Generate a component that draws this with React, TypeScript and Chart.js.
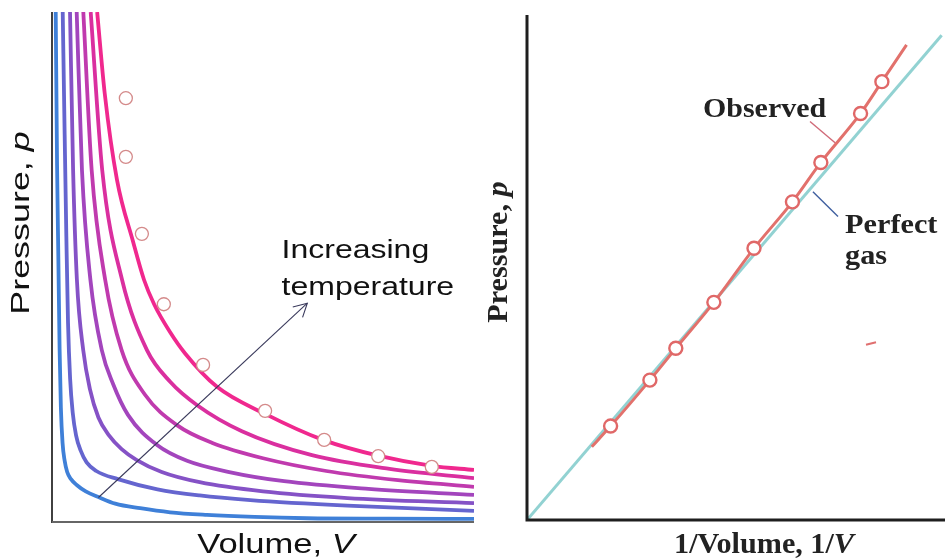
import React, { useEffect, useRef } from "react";
import { Chart, registerables } from "chart.js";
Chart.register(...registerables);

// ---------- Left panel: isotherms (Volume V vs Pressure p), arbitrary units 0..10 ----------
const isoV1 = [1.07, 1.25, 1.54, 1.92, 2.18, 2.42, 2.8, 3.15, 3.91, 5.05, 6.42, 7.73, 9.0, 10.0];
const isoP1 = [10.0, 8.4, 6.71, 5.5, 4.75, 4.27, 3.72, 3.31, 2.65, 2.12, 1.61, 1.3, 1.1, 1.02];
const isoV2 = [0.917, 1.19, 1.66, 2.25, 2.8, 3.44, 4.5, 6.16, 8.0, 10.0];
const isoP2 = [10.0, 6.9, 4.75, 3.37, 2.75, 2.29, 1.78, 1.31, 1.04, 0.86];
const isoV3 = [0.742, 0.94, 1.26, 1.65, 2.2, 2.96, 3.8, 5.0, 6.5, 8.2, 10.0];
const isoP3 = [10.0, 6.9, 4.75, 3.37, 2.5, 1.9, 1.55, 1.25, 1.0, 0.82, 0.69];
const isoV4 = [0.585, 0.71, 0.91, 1.18, 1.45, 1.8, 2.49, 3.2, 4.2, 5.5, 7.5, 10.0];
const isoP4 = [10.0, 6.9, 4.75, 3.37, 2.7, 2.1, 1.51, 1.2, 0.98, 0.8, 0.65, 0.53];
const isoV5 = [0.427, 0.5, 0.59, 0.74, 0.9, 1.1, 1.35, 1.65, 2.0, 2.6, 3.5, 5.0, 7.0, 10.0];
const isoP5 = [10.0, 6.9, 4.75, 3.37, 2.6, 2.05, 1.7, 1.43, 1.22, 0.98, 0.78, 0.6, 0.47, 0.37];
const isoV6 = [0.254, 0.3, 0.34, 0.38, 0.43, 0.49, 0.57, 0.68, 0.82, 1.05, 1.56, 2.5, 3.5, 4.7, 7.0, 10.0];
const isoP6 = [10.0, 7.6, 5.6, 3.9, 2.8, 2.15, 1.7, 1.4, 1.17, 1.0, 0.84, 0.64, 0.52, 0.43, 0.32, 0.22];
const isoV7 = [0.088, 0.12, 0.15, 0.18, 0.21, 0.25, 0.3, 0.36, 0.45, 0.585, 0.8, 1.1, 1.5, 2.09, 2.8, 3.67, 4.8, 6.04, 8.0, 10.0];
const isoP7 = [10.0, 7.0, 5.2, 3.4, 2.25, 1.55, 1.2, 0.98, 0.84, 0.725, 0.6, 0.49, 0.36, 0.27, 0.19, 0.14, 0.1, 0.074, 0.065, 0.06];

const isoVs = [isoV1, isoV2, isoV3, isoV4, isoV5, isoV6, isoV7];
const isoPs = [isoP1, isoP2, isoP3, isoP4, isoP5, isoP6, isoP7];
const isoColors = ["#f0288e", "#da2f9f", "#c03aae", "#a345bd", "#8552c6", "#6565cf", "#3f80d8"];

// observed (real-gas) points on the left panel
const leftObsV = [1.75, 1.75, 2.13, 2.65, 3.58, 5.05, 6.45, 7.73, 9.0];
const leftObsP = [8.31, 7.16, 5.65, 4.27, 3.08, 2.18, 1.61, 1.29, 1.08];

// ---------- Right panel: 1/V vs p ----------
const perfectInvV = [0, 9.92];
const perfectP = [0, 9.6];
const observedLineInvV = [1.55, 2.0, 2.94, 3.56, 4.47, 5.43, 6.35, 7.03, 7.98, 8.49, 9.08];
const observedLineP = [1.45, 1.86, 2.77, 3.4, 4.31, 5.38, 6.3, 7.08, 8.05, 8.68, 9.41];
const observedPtsInvV = [2.0, 2.94, 3.56, 4.47, 5.43, 6.35, 7.03, 7.98, 8.49];
const observedPtsP = [1.86, 2.77, 3.4, 4.31, 5.38, 6.3, 7.08, 8.05, 8.68];

// annotation anchors (data units)
const ARROW_FROM = [1.1, 0.48];
const ARROW_TO = [6.05, 4.29];
const INC_TEXT = { x: 5.44, y1: 5.17, y2: 4.45 };
const OBS_TEXT = { x: 4.21, y: 7.99 };
const PERF_TEXT = { x: 7.61, y1: 5.68, y2: 5.07 };
const OBS_LEADER = [[6.77, 7.89], [7.37, 7.47]];
const PERF_LEADER = [[6.84, 6.5], [7.44, 6.01]];
const STRAY_DASH = [[8.11, 3.47], [8.35, 3.52]];

const SANS = '"Liberation Sans", Arial, sans-serif';
const SERIF = '"Liberation Serif", "Times New Roman", serif';

type Part = { text: string; font: string };

function drawRich(
  ctx: CanvasRenderingContext2D,
  parts: Part[],
  x: number,
  y: number,
  align: "left" | "center",
  rotate: number,
  sx: number,
  color: string
) {
  ctx.save();
  ctx.translate(x, y);
  if (rotate) ctx.rotate(rotate);
  ctx.scale(sx, 1);
  ctx.fillStyle = color;
  ctx.textBaseline = "alphabetic";
  ctx.textAlign = "left";
  const widths = parts.map((p) => {
    ctx.font = p.font;
    return ctx.measureText(p.text).width;
  });
  const total = widths.reduce((a, b) => a + b, 0);
  let cx = align === "center" ? -total / 2 : 0;
  parts.forEach((p, i) => {
    ctx.font = p.font;
    ctx.fillText(p.text, cx, 0);
    cx += widths[i];
  });
  ctx.restore();
}

const baseOptions = (padding: any) => ({
  responsive: false,
  animation: false as const,
  events: [] as any[],
  layout: { padding, autoPadding: false },
  plugins: { legend: { display: false }, tooltip: { enabled: false } },
  scales: {
    x: { type: "linear" as const, min: 0, max: 10, display: false },
    y: { type: "linear" as const, min: 0, max: 10, display: false },
  },
});

const leftPlugin = {
  id: "leftDecor",
  afterDatasetsDraw(chart: any) {
    const { ctx, chartArea: a, scales } = chart;
    const X = (v: number) => scales.x.getPixelForValue(v);
    const Y = (v: number) => scales.y.getPixelForValue(v);
    ctx.save();
    // axes
    ctx.lineCap = "butt";
    ctx.strokeStyle = "#111";
    ctx.lineWidth = 1.6;
    ctx.beginPath();
    ctx.moveTo(a.left, a.top);
    ctx.lineTo(a.left, a.bottom + 1);
    ctx.stroke();
    ctx.strokeStyle = "#666";
    ctx.lineWidth = 2.2;
    ctx.beginPath();
    ctx.moveTo(a.left, a.bottom);
    ctx.lineTo(a.right, a.bottom);
    ctx.stroke();
    // arrow
    const x0 = X(ARROW_FROM[0]), y0 = Y(ARROW_FROM[1]);
    const x1 = X(ARROW_TO[0]), y1 = Y(ARROW_TO[1]);
    ctx.strokeStyle = "#3a3a5c";
    ctx.lineWidth = 1.1;
    ctx.beginPath();
    ctx.moveTo(x0, y0);
    ctx.lineTo(x1, y1);
    ctx.stroke();
    const ang = Math.atan2(y1 - y0, x1 - x0);
    const L = 15;
    ctx.beginPath();
    ctx.moveTo(x1 - L * Math.cos(ang - 0.5), y1 - L * Math.sin(ang - 0.5));
    ctx.lineTo(x1, y1);
    ctx.lineTo(x1 - L * Math.cos(ang + 0.5), y1 - L * Math.sin(ang + 0.5));
    ctx.stroke();
    // text
    const f = `25px ${SANS}`;
    drawRich(ctx, [{ text: "Increasing", font: f }], X(INC_TEXT.x), Y(INC_TEXT.y1), "left", 0, 1.28, "#111");
    drawRich(ctx, [{ text: "temperature", font: f }], X(INC_TEXT.x), Y(INC_TEXT.y2), "left", 0, 1.28, "#111");
    // axis titles
    drawRich(
      ctx,
      [
        { text: "Volume, ", font: `27px ${SANS}` },
        { text: "V", font: `italic 27px ${SANS}` },
      ],
      a.left + 224,
      a.bottom + 31,
      "center",
      0,
      1.28,
      "#111"
    );
    drawRich(
      ctx,
      [
        { text: "Pressure, ", font: `26px ${SANS}` },
        { text: "p", font: `italic 26px ${SANS}` },
      ],
      a.left - 23,
      a.top + 211,
      "center",
      -Math.PI / 2,
      1.38,
      "#111"
    );
    ctx.restore();
  },
};

const rightPlugin = {
  id: "rightDecor",
  afterDatasetsDraw(chart: any) {
    const { ctx, chartArea: a, scales } = chart;
    const X = (v: number) => scales.x.getPixelForValue(v);
    const Y = (v: number) => scales.y.getPixelForValue(v);
    ctx.save();
    ctx.strokeStyle = "#1e1e1e";
    ctx.lineWidth = 3;
    ctx.beginPath();
    ctx.moveTo(a.left, a.top);
    ctx.lineTo(a.left, a.bottom + 1.5);
    ctx.moveTo(a.left - 1.5, a.bottom);
    ctx.lineTo(a.right, a.bottom);
    ctx.stroke();
    // leaders
    ctx.lineWidth = 1.4;
    ctx.strokeStyle = "#d06a78";
    ctx.beginPath();
    ctx.moveTo(X(OBS_LEADER[0][0]), Y(OBS_LEADER[0][1]));
    ctx.lineTo(X(OBS_LEADER[1][0]), Y(OBS_LEADER[1][1]));
    ctx.stroke();
    ctx.strokeStyle = "#3f5f9f";
    ctx.beginPath();
    ctx.moveTo(X(PERF_LEADER[0][0]), Y(PERF_LEADER[0][1]));
    ctx.lineTo(X(PERF_LEADER[1][0]), Y(PERF_LEADER[1][1]));
    ctx.stroke();
    ctx.strokeStyle = "#e07070";
    ctx.lineWidth = 2;
    ctx.beginPath();
    ctx.moveTo(X(STRAY_DASH[0][0]), Y(STRAY_DASH[0][1]));
    ctx.lineTo(X(STRAY_DASH[1][0]), Y(STRAY_DASH[1][1]));
    ctx.stroke();
    // labels
    const bf = `bold 28px ${SERIF}`;
    drawRich(ctx, [{ text: "Observed", font: bf }], X(OBS_TEXT.x), Y(OBS_TEXT.y), "left", 0, 1.07, "#222");
    drawRich(ctx, [{ text: "Perfect", font: bf }], X(PERF_TEXT.x), Y(PERF_TEXT.y1), "left", 0, 1.08, "#222");
    drawRich(ctx, [{ text: "gas", font: bf }], X(PERF_TEXT.x), Y(PERF_TEXT.y2), "left", 0, 1.08, "#222");
    // axis titles
    drawRich(
      ctx,
      [
        { text: "1/Volume, 1/", font: `bold 29px ${SERIF}` },
        { text: "V", font: `italic bold 29px ${SERIF}` },
      ],
      a.left + 237,
      a.bottom + 33,
      "center",
      0,
      1.04,
      "#222"
    );
    drawRich(
      ctx,
      [
        { text: "Pressure, ", font: `bold 29px ${SERIF}` },
        { text: "p", font: `italic bold 29px ${SERIF}` },
      ],
      a.left - 20,
      a.top + 237,
      "center",
      -Math.PI / 2,
      1.04,
      "#222"
    );
    ctx.restore();
  },
};

export default function App() {
  const leftRef = useRef<HTMLCanvasElement>(null);
  const rightRef = useRef<HTMLCanvasElement>(null);

  useEffect(() => {
    const leftDatasets: any[] = [
      {
        data: leftObsV.map((v, i) => ({ x: v, y: leftObsP[i] })),
        showLine: false,
        pointRadius: 6.5,
        pointBorderWidth: 1.3,
        pointBorderColor: "#d48a8a",
        pointBackgroundColor: "#ffffff",
      },
      ...isoVs.map((vs, k) => ({
        data: vs.map((v, i) => ({ x: v, y: isoPs[k][i] })),
        borderColor: isoColors[k],
        borderWidth: 3.8,
        pointRadius: 0,
        cubicInterpolationMode: "monotone",
        fill: false,
        clip: 0,
      })),
    ];
    const left = new Chart(leftRef.current!, {
      type: "line",
      data: { datasets: leftDatasets },
      options: baseOptions({ left: 52, top: 12, right: 6, bottom: 37 }) as any,
      plugins: [leftPlugin],
    });

    const rightDatasets: any[] = [
      {
        data: observedPtsInvV.map((v, i) => ({ x: v, y: observedPtsP[i] })),
        showLine: false,
        pointRadius: 6.5,
        pointBorderWidth: 2.4,
        pointBorderColor: "#e06868",
        pointBackgroundColor: "#ffffff",
      },
      {
        data: observedLineInvV.map((v, i) => ({ x: v, y: observedLineP[i] })),
        borderColor: "#e2716c",
        borderWidth: 3,
        pointRadius: 0,
        cubicInterpolationMode: "monotone",
        fill: false,
      },
      {
        data: perfectInvV.map((v, i) => ({ x: v, y: perfectP[i] })),
        borderColor: "#92d2d2",
        borderWidth: 3,
        pointRadius: 0,
        fill: false,
      },
    ];
    const right = new Chart(rightRef.current!, {
      type: "line",
      data: { datasets: rightDatasets },
      options: baseOptions({ left: 47, top: 15, right: 0, bottom: 39 }) as any,
      plugins: [rightPlugin],
    });
    return () => {
      left.destroy();
      right.destroy();
    };
  }, []);

  return (
    <div style={{ position: "fixed", left: 0, top: 0, width: 945, height: 559, background: "#fff" }}>
      <canvas
        ref={leftRef}
        width={480}
        height={559}
        style={{ position: "absolute", left: 0, top: 0, width: 480, height: 559 }}
      />
      <canvas
        ref={rightRef}
        width={465}
        height={559}
        style={{ position: "absolute", left: 480, top: 0, width: 465, height: 559 }}
      />
    </div>
  );
}
